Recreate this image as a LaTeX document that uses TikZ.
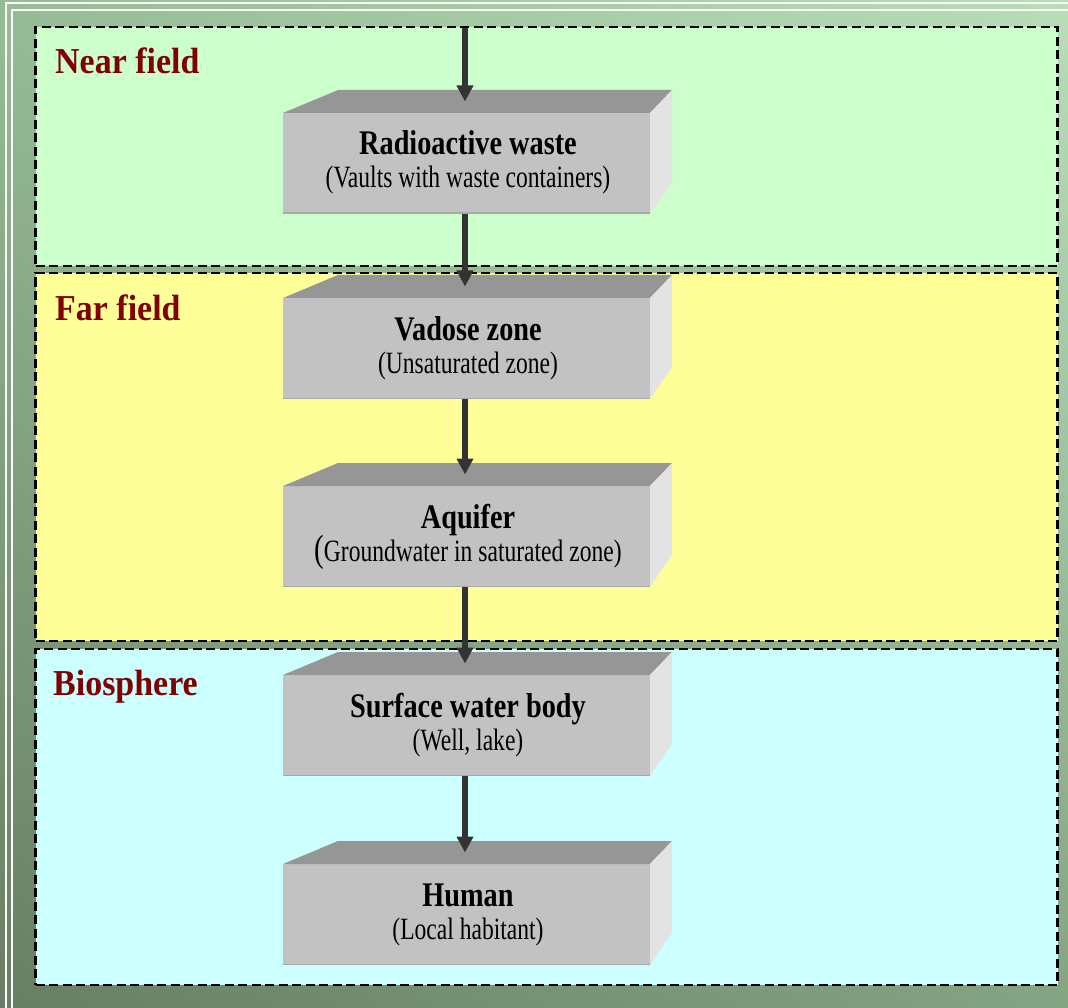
\documentclass[tikz,border=0pt]{standalone}
\usepackage{fontspec}
\setmainfont{Liberation Serif}
\newfontfamily\ptfont[FakeStretch=0.93]{Liberation Serif}
\newfontfamily\btfont[FakeStretch=0.82]{Liberation Serif}
\newfontfamily\sbfont[FakeStretch=0.76]{Liberation Serif}
\usetikzlibrary{arrows.meta,shadings}
\definecolor{nearc}{RGB}{204,255,204}
\definecolor{farc}{RGB}{255,255,153}
\definecolor{bioc}{RGB}{204,255,255}
\definecolor{titlec}{RGB}{128,0,0}
\definecolor{frontc}{RGB}{194,194,194}
\definecolor{topc}{RGB}{150,150,150}
\definecolor{sidec}{RGB}{227,227,227}
\definecolor{edgec}{RGB}{168,168,168}
\definecolor{arrc}{RGB}{51,51,51}
\definecolor{bgul}{RGB}{150,188,150}
\definecolor{bgur}{RGB}{184,222,184}
\definecolor{bgll}{RGB}{104,126,100}
\definecolor{bglr}{RGB}{132,164,132}
\tikzset{
  panel/.style={draw=black, line width=2.8pt, dash pattern=on 9pt off 4.5pt,
    inner sep=0pt, outer sep=0pt},
  ptitle/.style={text=titlec, font=\ptfont\fontsize{36.5}{38}\selectfont\bfseries,
    inner sep=0pt, anchor=base west},
  front/.style={fill=frontc, minimum width=367pt, minimum height=101pt,
    inner sep=0pt, outer sep=0pt},
  topface/.style={fill=topc},
  sideface/.style={fill=sidec},
  btitle/.style={font=\btfont\fontsize{34.5}{36}\selectfont\bfseries, inner sep=0pt, anchor=base},
  bsub/.style={font=\sbfont\fontsize{31}{33}\selectfont, inner sep=0pt, anchor=base},
  arr/.style={draw=arrc, line width=6pt, -{Triangle[width=16pt,length=16pt]}, arrc},
}
\newcommand\slab[4]{%
  \node[front] (#1) at (466.5,#2+50.5) {};
  \fill[topface] (#1.north west) -- ++(55,-23) -- ([shift={(22,-23)}]#1.north east) -- (#1.north east) -- cycle;
  \fill[sideface] (#1.north east) -- ++(22,-23) -- ([shift={(22,-32)}]#1.south east) -- (#1.south east) -- cycle;
  \draw[edgec, line width=1.5pt] ([yshift=0.75pt]#1.south west) -- ([yshift=0.75pt]#1.south east);
  \node[btitle] (#1t) at (468,#2+42) {#3};
  \node[bsub] (#1s) at (468,#2+75) {#4};
  \coordinate (#1in) at ([xshift=-1.5pt,yshift=11.5pt]#1.north);
  \coordinate (#1out) at ([xshift=-1.5pt]#1.south);
}
\begin{document}
\begin{tikzpicture}[x=1pt,y=-1pt]
\useasboundingbox (0,0) rectangle (1068,1008);
\shade[upper left=bgul, upper right=bgur, lower left=bgll, lower right=bglr]
  (0,0) rectangle (1068,1008);
% white double frame lines
\draw[white, line width=1.5pt] (6,1008) -- (6,3) -- (1068,3);
\draw[white, line width=1.5pt] (12,1008) -- (12,10) -- (1068,10);
% panels
\node[panel, fill=nearc, minimum width=1022pt, minimum height=239pt] (near) at (546.5,146.5) {};
\node[panel, fill=farc, minimum width=1022pt, minimum height=368pt] (far) at (546.5,457) {};
\node[panel, fill=bioc, minimum width=1022pt, minimum height=336pt] (bio) at (546.5,817) {};
\node[ptitle] (nearT) at (55,74) {Near field};
\node[ptitle] (farT) at (55,320) {Far field};
\node[ptitle] (bioT) at (53,695) {Biosphere};
% boxes
\slab{b1}{113}{Radioactive waste}{(Vaults with waste containers)}
\slab{b2}{298}{Vadose zone}{(Unsaturated zone)}
\slab{b3}{486}{Aquifer}{{\fontsize{38}{38}\selectfont(}Groundwater in saturated zone)}
\slab{b4}{675}{Surface water body}{(Well, lake)}
\slab{b5}{864}{Human}{(Local habitant)}
% arrows
\coordinate (src) at (465,28);
\draw[arr] (src) -- (b1in);
\draw[arr] (b1out) -- (b2in);
\draw[arr] (b2out) -- (b3in);
\draw[arr] (b3out) -- (b4in);
\draw[arr] (b4out) -- (b5in);
\end{tikzpicture}
\end{document}
